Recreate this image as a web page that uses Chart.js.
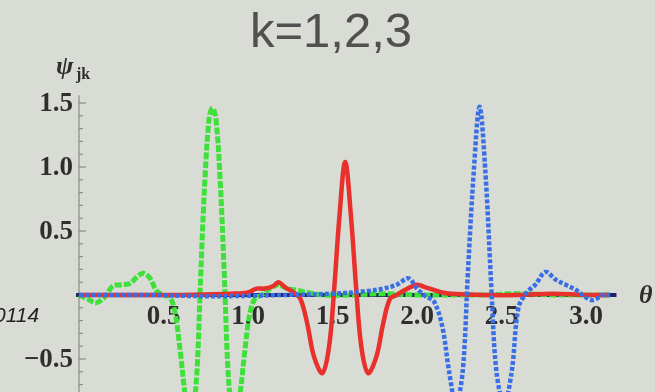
<!DOCTYPE html>
<html>
<head>
<meta charset="utf-8">
<script src="https://cdn.jsdelivr.net/npm/chart.js@4.4.1/dist/chart.umd.min.js"></script>
<style>
  html, body { margin: 0; padding: 0; background: #d8dcd5; }
  #psiChart { display: block; }
</style>
</head>
<body>
<canvas id="psiChart" width="655" height="392"></canvas>
<script>
// theta samples and psi values for each scale k
const thetaK1 = [0, 0.05, 0.1, 0.15, 0.2, 0.25, 0.3, 0.35, 0.38, 0.42, 0.46, 0.5, 0.54, 0.57, 0.6, 0.63, 0.655, 0.68, 0.7, 0.72, 0.745, 0.77, 0.79, 0.81, 0.835, 0.86, 0.88, 0.9, 0.925, 0.95, 0.98, 1.01, 1.04, 1.08, 1.13, 1.18, 1.23, 1.28, 1.35, 1.45, 1.6, 1.8, 2.0, 2.2, 2.4, 2.6, 2.8, 3.0, 3.14];
const psiK1 = [0, -0.03, -0.06, -0.02, 0.07, 0.08, 0.09, 0.15, 0.17, 0.13, 0.03, 0, -0.02, -0.15, -0.45, -0.8, -0.95, -0.85, -0.55, 0.15, 0.9, 1.38, 1.46, 1.38, 0.9, 0.15, -0.55, -0.85, -0.95, -0.8, -0.45, -0.15, -0.03, 0, 0.05, 0.08, 0.05, 0.04, 0.02, 0, 0, 0.01, 0, 0, 0, 0.01, 0, 0, 0];

const thetaK2 = [0, 0.3, 0.6, 0.9, 1.0, 1.05, 1.1, 1.15, 1.18, 1.22, 1.27, 1.31, 1.35, 1.39, 1.44, 1.48, 1.51, 1.54, 1.575, 1.61, 1.64, 1.67, 1.71, 1.76, 1.8, 1.84, 1.88, 1.93, 2.0, 2.05, 2.1, 2.15, 2.2, 2.4, 2.6, 2.8, 3.0, 3.14];
const psiK2 = [0, 0, 0, 0.01, 0.02, 0.05, 0.05, 0.07, 0.1, 0.06, 0.02, -0.03, -0.22, -0.48, -0.61, -0.4, 0.05, 0.6, 1.04, 0.6, 0.05, -0.4, -0.61, -0.48, -0.22, -0.03, 0, 0.04, 0.08, 0.06, 0.04, 0.02, 0.01, 0, 0, 0.01, 0, 0];

const thetaK3 = [0, 0.4, 0.8, 1.2, 1.5, 1.7, 1.8, 1.88, 1.95, 2.0, 2.05, 2.1, 2.15, 2.19, 2.23, 2.27, 2.3, 2.335, 2.37, 2.405, 2.44, 2.47, 2.515, 2.56, 2.6, 2.65, 2.7, 2.76, 2.82, 2.88, 2.94, 3.0, 3.04, 3.1, 3.14];
const psiK3 = [0, 0, -0.01, 0, 0.01, 0.03, 0.05, 0.08, 0.13, 0.05, -0.01, -0.05, -0.25, -0.6, -0.85, -0.6, 0.15, 0.95, 1.47, 0.95, 0.05, -0.6, -0.85, -0.6, -0.1, 0.02, 0.08, 0.18, 0.12, 0.08, 0.04, -0.02, -0.04, 0, 0];

const xTickValues = [0.5, 1.0, 1.5, 2.0, 2.5, 3.0];
const xTickLabels = ['0.5', '1.0', '1.5', '2.0', '2.5', '3.0'];
const yTickValues = [1.5, 1.0, 0.5, -0.5];
const yTickLabels = ['1.5', '1.0', '0.5', '\u22120.5'];

const toPoints = (xs, ys) => xs.map((x, i) => ({ x: x, y: ys[i] }));

// axes crossing at the origin, drawn from the chart's own scales
const axesPlugin = {
  id: 'originAxes',
  beforeDraw(chart) {
    const c = chart.ctx;
    c.save();
    c.fillStyle = '#d8dcd5';
    c.fillRect(0, 0, chart.width, chart.height);
    c.restore();
  },
  beforeDatasetsDraw(chart) {
    const c = chart.ctx;
    const xs = chart.scales.x;
    const ys = chart.scales.y;
    const x0 = xs.getPixelForValue(0);
    const y0 = ys.getPixelForValue(0);

    c.save();
    // y axis with minor ticks
    c.strokeStyle = '#8a8c88';
    c.lineWidth = 1.2;
    c.beginPath();
    c.moveTo(x0, ys.getPixelForValue(1.56));
    c.lineTo(x0, chart.height);
    c.stroke();
    for (let v = -7; v <= 15; v++) {
      const py = ys.getPixelForValue(v / 10);
      c.beginPath();
      c.moveTo(x0, py);
      c.lineTo(x0 + (v % 5 === 0 ? 7 : 4), py);
      c.stroke();
    }

    // x axis line
    c.strokeStyle = '#22246a';
    c.lineWidth = 4;
    c.beginPath();
    c.moveTo(x0 - 3, y0);
    c.lineTo(xs.getPixelForValue(3.18), y0);
    c.stroke();

    // tick labels
    c.fillStyle = '#2e2e2e';
    c.font = 'bold 27px "Liberation Serif", serif';
    c.textAlign = 'center';
    c.textBaseline = 'middle';
    xTickValues.forEach((v, i) => {
      c.fillText(xTickLabels[i], xs.getPixelForValue(v), y0 + 22);
    });
    c.textAlign = 'right';
    yTickValues.forEach((v, i) => {
      c.fillText(yTickLabels[i], x0 - 6, ys.getPixelForValue(v) + 1);
    });

    // axis names
    c.textAlign = 'left';
    c.textBaseline = 'alphabetic';
    c.font = 'bold italic 26px "Liberation Serif", serif';
    c.fillText('\u03c8', 56, 74);
    c.font = 'bold 16px "Liberation Serif", serif';
    c.fillText('jk', 76, 79);
    c.font = 'bold italic 26px "Liberation Serif", serif';
    c.fillText('\u03b8', 639, y0 + 8);

    // title
    c.fillStyle = '#505050';
    c.font = '49px "Liberation Sans", Arial, sans-serif';
    c.textAlign = 'center';
    c.fillText('k=1,2,3', 331, 47);

    // side note
    c.fillStyle = '#222222';
    c.textAlign = 'left';
    c.font = 'italic 21px "Liberation Sans", Arial, sans-serif';
    c.fillText('0114', -6, 322);
    c.restore();
  }
};

const ctx = document.getElementById('psiChart').getContext('2d');
new Chart(ctx, {
  type: 'line',
  data: {
    datasets: [
      {
        label: 'k=1',
        data: toPoints(thetaK1, psiK1),
        borderColor: '#3ee03a',
        borderWidth: 5,
        borderDash: [7, 2],
        order: 3,
      },
      {
        label: 'k=2',
        data: toPoints(thetaK2, psiK2),
        borderColor: '#e8302c',
        borderWidth: 4.5,
        order: 2,
      },
      {
        label: 'k=3',
        data: toPoints(thetaK3, psiK3),
        borderColor: '#3a6ee6',
        borderWidth: 4.5,
        borderDash: [4, 2],
        order: 1,
      },
    ],
  },
  options: {
    responsive: false,
    animation: false,
    layout: { padding: 0 },
    plugins: {
      legend: { display: false },
      tooltip: { enabled: false },
    },
    elements: {
      point: { radius: 0 },
      line: { tension: 0.35, fill: false },
    },
    scales: {
      x: { type: 'linear', min: -0.4675, max: 3.408, display: false },
      y: { type: 'linear', min: -0.758, max: 2.305, display: false },
    },
  },
  plugins: [axesPlugin],
});
</script>
</body>
</html>
